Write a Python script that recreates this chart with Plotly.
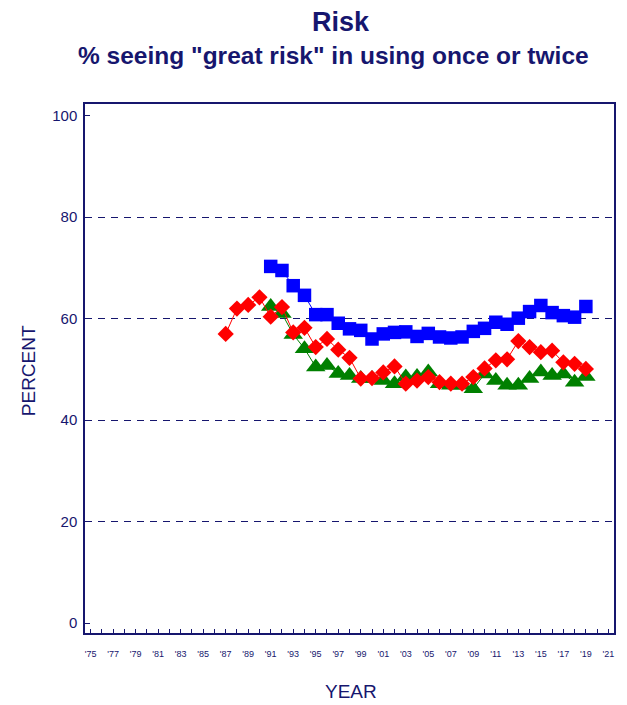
import plotly.graph_objects as go

NAVY = "#16166e"

years_blue = list(range(1991, 2020))
blue = [70.3, 69.5, 66.5, 64.6, 60.8, 60.8, 59.1, 58.0, 57.7, 56.0,
        57.0, 57.3, 57.4, 56.5, 57.1, 56.4, 56.2, 56.4, 57.5, 58.1,
        59.3, 58.9, 60.1, 61.4, 62.6, 61.2, 60.6, 60.3, 62.4]

years_red = list(range(1987, 2020))
red = [57.0, 62.0, 62.7, 64.2, 60.4, 62.3, 57.3, 58.2, 54.4, 56.0,
       53.9, 52.3, 48.2, 48.3, 49.4, 50.6, 47.2, 47.8, 48.5, 47.5,
       47.2, 47.2, 48.5, 50.2, 51.8, 52.0, 55.6, 54.4, 53.4, 53.7,
       51.4, 51.1, 50.1]

years_green = list(range(1991, 2020))
green = [62.4, 61.0, 56.9, 54.1, 50.5, 50.8, 49.2, 48.8, 48.2, 48.2,
         47.8, 47.2, 48.5, 48.6, 49.5, 47.2, 46.9, 46.9, 46.2, 49.1,
         47.8, 46.9, 46.9, 48.2, 49.5, 48.8, 49.1, 47.5, 48.6]

x_ticks = list(range(1975, 2022))
x_labels = ["'" + str(y)[2:] if (y - 1975) % 2 == 0 else "" for y in x_ticks]
y_ticks = [0, 20, 40, 60, 80, 100]
grid_vals = [20, 40, 60, 80]

fig = go.Figure()
# invisible trace to activate the grid axis
fig.add_trace(go.Scatter(x=[None], y=[None], yaxis="y2", showlegend=False))
fig.add_trace(go.Scatter(x=years_green, y=green, mode="lines+markers",
                         line=dict(color="#008000", width=1),
                         marker=dict(symbol="triangle-up", size=17, color="#008000"),
                         showlegend=False))
fig.add_trace(go.Scatter(x=years_red, y=red, mode="lines+markers",
                         line=dict(color="#ff0000", width=1),
                         marker=dict(symbol="diamond", size=12.5, color="#ff0000"),
                         showlegend=False))
fig.add_trace(go.Scatter(x=years_blue, y=blue, mode="lines+markers",
                         line=dict(color="#0000ff", width=1),
                         marker=dict(symbol="square", size=13.5, color="#0000ff"),
                         showlegend=False))

fig.update_layout(
    width=627, height=705,
    margin=dict(l=85, r=11, t=104, b=72),
    paper_bgcolor="white", plot_bgcolor="white",
    font=dict(family="Liberation Sans, Arial", color=NAVY),
    xaxis=dict(range=[1974.5, 2021.5], tickvals=x_ticks, ticktext=x_labels,
               ticks="inside", ticklen=4, tickcolor=NAVY, tickwidth=1,
               showgrid=False, zeroline=False, showline=True, linecolor=NAVY,
               linewidth=1.5, mirror=True, tickfont=dict(size=9, color=NAVY),
               ticklabelstandoff=11),
    yaxis=dict(range=[-1.93, 102.3], tickvals=y_ticks,
               ticks="inside", ticklen=5, tickcolor=NAVY, tickwidth=1,
               showgrid=False, zeroline=False, showline=True, linecolor=NAVY,
               linewidth=1.5, mirror=True, tickfont=dict(size=15, color=NAVY),
               ticklabelstandoff=3),
    yaxis2=dict(range=[-1.93, 102.3], overlaying="y", tickvals=grid_vals,
                showticklabels=False, ticks="", showgrid=True,
                gridcolor=NAVY, gridwidth=1, griddash="7px,6px",
                zeroline=False, showline=False),
)

fig.add_annotation(text="<b>Risk</b>", x=342, y=22, showarrow=False,
                   font=dict(size=27, color=NAVY))
fig.add_annotation(text='<b>% seeing "great risk" in using once or twice</b>',
                   x=334, y=55, showarrow=False, font=dict(size=24.5, color=NAVY))
fig.add_annotation(text="PERCENT", x=29, y=371, textangle=-90, showarrow=False,
                   font=dict(size=19, color=NAVY))
fig.add_annotation(text="YEAR", x=352, y=691, showarrow=False,
                   font=dict(size=19, color=NAVY))

# convert pixel positions of annotations into paper coordinates
pl, pr, pt, pb = 85, 616, 104, 633
for a in fig.layout.annotations:
    px, py = a.x, a.y
    a.xref = "paper"; a.yref = "paper"
    a.x = (px - pl) / (pr - pl)
    a.y = (pb - py) / (pb - pt)
    a.xanchor = "center"; a.yanchor = "middle"

fig.write_html("out.html", config={"displayModeBar": False},
               post_script="document.body.style.margin='0';"
                           "document.body.style.overflow='hidden';")
